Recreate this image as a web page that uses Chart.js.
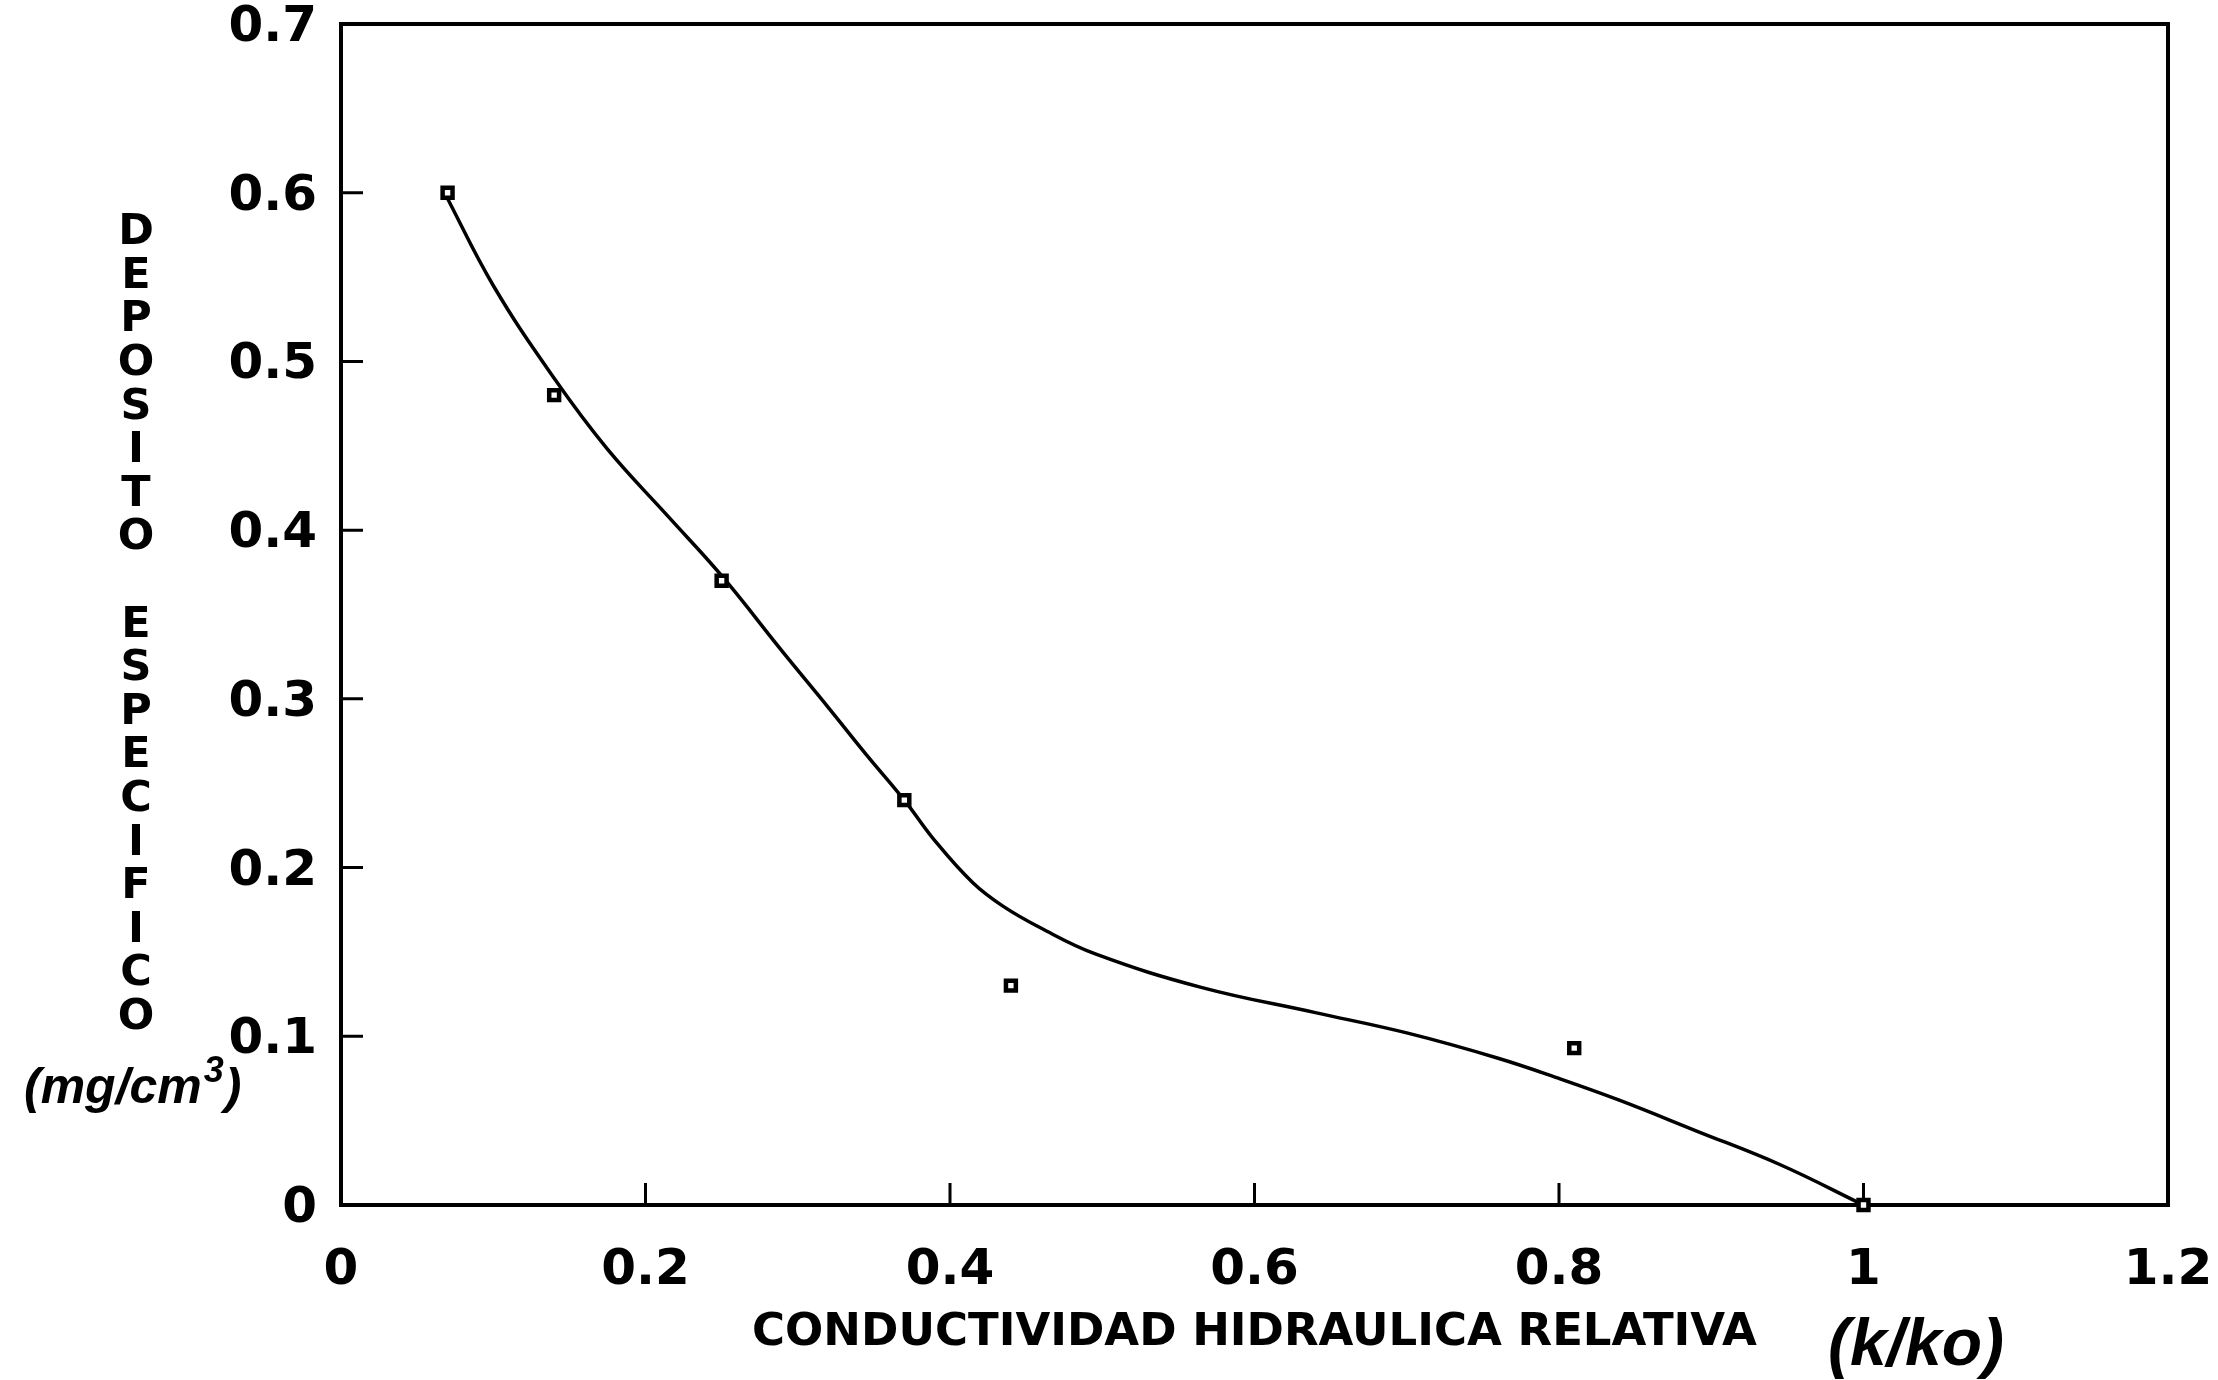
<!DOCTYPE html>
<html lang="es">

<head>
    <meta charset="UTF-8">
    <title>Deposito especifico vs conductividad</title>
    <style>
        html, body { margin: 0; padding: 0; background: #fff; }
        #wrap { width: 2218px; height: 1380px; }
    </style>
</head>

<body>
    <div id="wrap">
        <canvas id="grafico" width="2218" height="1380"></canvas>
    </div>

    <script src="https://cdn.jsdelivr.net/npm/chart.js@4.4.1/dist/chart.umd.min.js"></script>

    <script>
        // medidas: conductividad relativa k/ko y deposito especifico (mg/cm3)
        const kRel = [0.07, 0.14, 0.25, 0.37, 0.44, 0.81, 1.0];
        const deposito = [0.60, 0.48, 0.37, 0.24, 0.13, 0.093, 0.0];

        // curva ajustada, leida punto a punto
        const curvaX = [0.068, 0.10, 0.14, 0.175, 0.215, 0.25, 0.29, 0.32, 0.345, 0.37, 0.39, 0.415,
                        0.435, 0.46, 0.495, 0.565, 0.64, 0.70, 0.76, 0.80, 0.84, 0.89, 0.945, 1.0];
        const curvaY = [0.600, 0.545, 0.490, 0.448, 0.408, 0.373, 0.328, 0.295, 0.267, 0.240, 0.216, 0.191,
                        0.177, 0.164, 0.149, 0.129, 0.114, 0.102, 0.087, 0.075, 0.062, 0.044, 0.024, 0.0];

        const ticksX = [0, 0.2, 0.4, 0.6, 0.8, 1.0, 1.2];
        const ticksY = [0, 0.1, 0.2, 0.3, 0.4, 0.5, 0.6, 0.7];

        const tituloY = 'DEPOSITO ESPECIFICO';
        const tituloX = 'CONDUCTIVIDAD HIDRAULICA RELATIVA';

        const ANCHA = '"DejaVu Sans", Verdana, sans-serif';
        const FUENTE = '"Liberation Sans", Arial, Helvetica, sans-serif';

        // marco, marcas hacia dentro y textos sueltos
        const adornos = {
            id: 'adornos',
            beforeDatasetsDraw(chart) {
                const { ctx, chartArea: a, scales: { x, y } } = chart;
                ctx.save();
                ctx.strokeStyle = '#000';
                ctx.lineWidth = 4;
                ctx.strokeRect(a.left, a.top, a.right - a.left, a.bottom - a.top);
                ctx.lineWidth = 3;
                ctx.beginPath();
                x.ticks.forEach(t => {
                    if (t.value > x.min && t.value < x.max) {
                        const px = x.getPixelForValue(t.value);
                        ctx.moveTo(px, a.bottom);
                        ctx.lineTo(px, a.bottom - 22);
                    }
                });
                y.ticks.forEach(t => {
                    if (t.value > y.min && t.value < y.max) {
                        const py = y.getPixelForValue(t.value);
                        ctx.moveTo(a.left, py);
                        ctx.lineTo(a.left + 22, py);
                    }
                });
                ctx.stroke();
                ctx.restore();
            },
            afterDraw(chart) {
                const { ctx, chartArea: a } = chart;
                ctx.save();
                ctx.fillStyle = '#000';

                // titulo vertical, letra por letra
                ctx.font = 'bold 43px ' + ANCHA;
                ctx.textAlign = 'center';
                ctx.textBaseline = 'middle';
                const cx = a.left - 205;
                const y0 = a.top + 209;
                tituloY.split('').forEach((ch, i) => {
                    if (ch !== ' ') ctx.fillText(ch, cx, y0 + i * 43.6);
                });

                // unidades con exponente
                ctx.textAlign = 'left';
                ctx.textBaseline = 'alphabetic';
                let ux = 24;
                const ub = a.bottom - 102;
                ctx.font = 'italic bold 50px ' + FUENTE;
                ctx.fillText('(mg/cm', ux, ub);
                ux += ctx.measureText('(mg/cm').width + 2;
                ctx.font = 'italic bold 36px ' + FUENTE;
                ctx.fillText('3', ux, ub - 21);
                ux += ctx.measureText('3').width + 1;
                ctx.font = 'italic bold 50px ' + FUENTE;
                ctx.fillText(')', ux, ub);

                // (k/ko)
                ctx.font = 'italic bold 66px ' + FUENTE;
                ctx.textAlign = 'center';
                ctx.textBaseline = 'middle';
                ctx.fillText('(k/ko)', a.left + 1575, a.bottom + 142);
                ctx.restore();
            }
        };

        const ctx = document.getElementById('grafico').getContext('2d');
        const grafico = new Chart(ctx, {
            type: 'scatter',
            data: {
                datasets: [
                    {
                        label: 'Ajuste',
                        data: curvaX.map((v, i) => ({ x: v, y: curvaY[i] })),
                        showLine: true,
                        borderColor: '#000',
                        borderWidth: 3.5,
                        pointRadius: 0,
                        tension: 0.4,
                        clip: false,
                        order: 2
                    },
                    {
                        label: 'Medidas',
                        data: kRel.map((v, i) => ({ x: v, y: deposito[i] })),
                        pointStyle: 'rect',
                        pointRadius: 7,
                        borderWidth: 4.5,
                        borderColor: '#000',
                        backgroundColor: '#fff',
                        clip: false,
                        order: 1
                    }
                ]
            },
            options: {
                responsive: false,
                animation: false,
                layout: { padding: { top: 24, right: 50, left: 0, bottom: 0 } },
                plugins: {
                    legend: { display: false },
                    tooltip: { enabled: false }
                },
                scales: {
                    x: {
                        type: 'linear',
                        min: 0,
                        max: 1.2,
                        afterBuildTicks: s => { s.ticks = ticksX.map(v => ({ value: v })); },
                        afterFit: s => { s.height = 175; s.paddingLeft = 0; s.paddingRight = 0; },
                        grid: { display: false, drawTicks: false },
                        border: { display: false },
                        ticks: {
                            color: '#000',
                            padding: 36,
                            maxRotation: 0,
                            font: { family: ANCHA, size: 50, weight: 'bold', lineHeight: 1.2 },
                            callback: v => String(+v.toFixed(1))
                        },
                        title: {
                            display: true,
                            text: tituloX,
                            color: '#000',
                            padding: { top: 0, bottom: 20 },
                            font: { family: ANCHA, size: 45, weight: 'bold', lineHeight: 1.2 }
                        }
                    },
                    y: {
                        type: 'linear',
                        min: 0,
                        max: 0.7,
                        afterBuildTicks: s => { s.ticks = ticksY.map(v => ({ value: v })); },
                        afterFit: s => { s.width = 341; s.paddingTop = 0; s.paddingBottom = 0; },
                        grid: { display: false, drawTicks: false },
                        border: { display: false },
                        ticks: {
                            color: '#000',
                            padding: 24,
                            labelOffset: 4,
                            font: { family: ANCHA, size: 50, weight: 'bold', lineHeight: 1 },
                            callback: v => String(+v.toFixed(1))
                        }
                    }
                }
            },
            plugins: [adornos]
        });
    </script>
</body>

</html>
